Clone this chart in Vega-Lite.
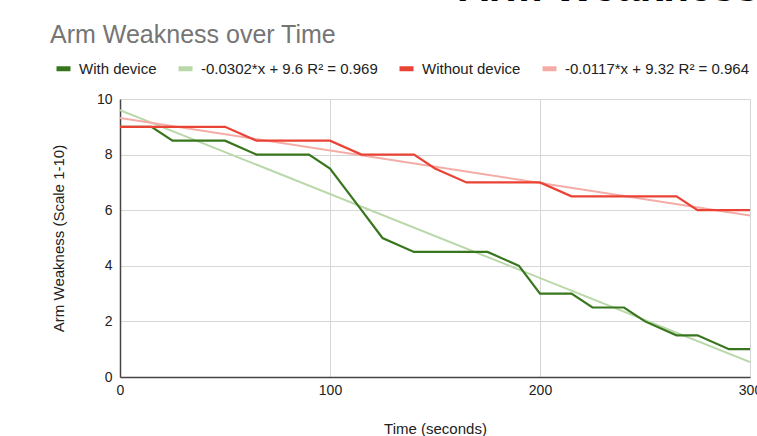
{
  "$schema": "https://vega.github.io/schema/vega-lite/v6.json",
  "width": 630,
  "height": 278,
  "autosize": {"type": "none"},
  "padding": {"left": 120, "top": 99, "right": 7, "bottom": 59},
  "background": "white",
  "config": {
    "font": "Liberation Sans",
    "view": {"stroke": null},
    "axis": {"labelFont": "Liberation Sans", "titleFont": "Liberation Sans"}
  },
  "title": {
    "text": "Arm Weakness over Time",
    "anchor": "start",
    "frame": "group",
    "color": "#757575",
    "fontSize": 25,
    "fontWeight": "normal",
    "font": "Liberation Sans",
    "baseline": "alphabetic",
    "dx": -70,
    "offset": -102
  },
  "datasets": {
    "obs": [
      {"t": 0, "v": 9, "series": "With device"},
      {"t": 15, "v": 9, "series": "With device"},
      {"t": 25, "v": 8.5, "series": "With device"},
      {"t": 40, "v": 8.5, "series": "With device"},
      {"t": 50, "v": 8.5, "series": "With device"},
      {"t": 65, "v": 8, "series": "With device"},
      {"t": 75, "v": 8, "series": "With device"},
      {"t": 90, "v": 8, "series": "With device"},
      {"t": 100, "v": 7.5, "series": "With device"},
      {"t": 115, "v": 6, "series": "With device"},
      {"t": 125, "v": 5, "series": "With device"},
      {"t": 140, "v": 4.5, "series": "With device"},
      {"t": 150, "v": 4.5, "series": "With device"},
      {"t": 165, "v": 4.5, "series": "With device"},
      {"t": 175, "v": 4.5, "series": "With device"},
      {"t": 190, "v": 4, "series": "With device"},
      {"t": 200, "v": 3, "series": "With device"},
      {"t": 215, "v": 3, "series": "With device"},
      {"t": 225, "v": 2.5, "series": "With device"},
      {"t": 240, "v": 2.5, "series": "With device"},
      {"t": 250, "v": 2, "series": "With device"},
      {"t": 265, "v": 1.5, "series": "With device"},
      {"t": 275, "v": 1.5, "series": "With device"},
      {"t": 290, "v": 1, "series": "With device"},
      {"t": 300, "v": 1, "series": "With device"},
      {"t": 0, "v": 9, "series": "Without device"},
      {"t": 15, "v": 9, "series": "Without device"},
      {"t": 25, "v": 9, "series": "Without device"},
      {"t": 40, "v": 9, "series": "Without device"},
      {"t": 50, "v": 9, "series": "Without device"},
      {"t": 65, "v": 8.5, "series": "Without device"},
      {"t": 75, "v": 8.5, "series": "Without device"},
      {"t": 90, "v": 8.5, "series": "Without device"},
      {"t": 100, "v": 8.5, "series": "Without device"},
      {"t": 115, "v": 8, "series": "Without device"},
      {"t": 125, "v": 8, "series": "Without device"},
      {"t": 140, "v": 8, "series": "Without device"},
      {"t": 150, "v": 7.5, "series": "Without device"},
      {"t": 165, "v": 7, "series": "Without device"},
      {"t": 175, "v": 7, "series": "Without device"},
      {"t": 190, "v": 7, "series": "Without device"},
      {"t": 200, "v": 7, "series": "Without device"},
      {"t": 215, "v": 6.5, "series": "Without device"},
      {"t": 225, "v": 6.5, "series": "Without device"},
      {"t": 240, "v": 6.5, "series": "Without device"},
      {"t": 250, "v": 6.5, "series": "Without device"},
      {"t": 265, "v": 6.5, "series": "Without device"},
      {"t": 275, "v": 6, "series": "Without device"},
      {"t": 290, "v": 6, "series": "Without device"},
      {"t": 300, "v": 6, "series": "Without device"}
    ],
    "trend": [
      {"t": 0, "v": 9.6, "series": "-0.0302*x + 9.6 R² = 0.969"},
      {"t": 300, "v": 0.54, "series": "-0.0302*x + 9.6 R² = 0.969"},
      {"t": 0, "v": 9.32, "series": "-0.0117*x + 9.32 R² = 0.964"},
      {"t": 300, "v": 5.81, "series": "-0.0117*x + 9.32 R² = 0.964"}
    ]
  },
  "layer": [
    {
      "data": {"name": "trend"},
      "mark": {"type": "line", "strokeWidth": 2, "clip": true},
      "encoding": {
        "x": {
          "field": "t", "type": "quantitative",
          "scale": {"domain": [0, 300], "nice": false},
          "axis": {
            "orient": "top", "labels": false, "ticks": false, "domain": false, "grid": false,
            "title": "Arm Weakness", "titleFontSize": 42, "titleFontWeight": "bold", "titleColor": "#000000",
            "titleX": 338, "titleY": -99, "titleAlign": "left", "titleBaseline": "alphabetic", "titleAngle": 0
          }
        },
        "y": {"field": "v", "type": "quantitative", "scale": {"domain": [0, 10], "nice": false}},
        "color": {"field": "series", "type": "nominal"},
        "detail": {"field": "series"}
      }
    },
    {
      "data": {"name": "obs"},
      "mark": {"type": "line", "strokeWidth": 2.2, "clip": true},
      "encoding": {
        "x": {
          "field": "t", "type": "quantitative",
          "axis": {
            "orient": "bottom", "values": [0, 100, 200, 300], "grid": true, "gridColor": "#d6d6d6",
            "ticks": false, "domainColor": "#444444", "domainWidth": 1.5, "labelFlush": false,
            "labelFontSize": 14, "labelColor": "#222222", "labelPadding": 6,
            "title": "Time (seconds)", "titleFontSize": 15, "titleFontWeight": "normal", "titleColor": "#222222",
            "titleY": 56, "titleBaseline": "alphabetic"
          }
        },
        "y": {
          "field": "v", "type": "quantitative",
          "axis": {
            "values": [0, 2, 4, 6, 8, 10], "grid": true, "gridColor": "#d6d6d6",
            "ticks": false, "domainColor": "#444444", "domainWidth": 1.5,
            "labelFontSize": 14, "labelColor": "#222222", "labelPadding": 8,
            "title": "Arm Weakness (Scale 1-10)", "titleFontSize": 15, "titleFontWeight": "normal", "titleColor": "#222222",
            "titleX": -62, "titleY": 139, "titleBaseline": "middle", "titleAngle": -90, "titleAlign": "center"
          }
        },
        "color": {
          "field": "series", "type": "nominal",
          "scale": {
            "domain": ["With device", "-0.0302*x + 9.6 R² = 0.969", "Without device", "-0.0117*x + 9.32 R² = 0.964"],
            "range": ["#38761d", "#b9d8a9", "#ea4335", "#f5aca6"]
          },
          "legend": {
            "title": null, "orient": "none", "direction": "horizontal",
            "legendX": -66, "legendY": -40,
            "symbolType": "stroke", "symbolSize": 196, "symbolStrokeWidth": 5,
            "labelFontSize": 15, "labelColor": "#222222", "labelFont": "Liberation Sans",
            "labelOffset": 6, "columnPadding": 11, "labelLimit": 400
          }
        },
        "detail": {"field": "series"}
      }
    }
  ],
  "resolve": {"axis": {"x": "independent"}}
}
